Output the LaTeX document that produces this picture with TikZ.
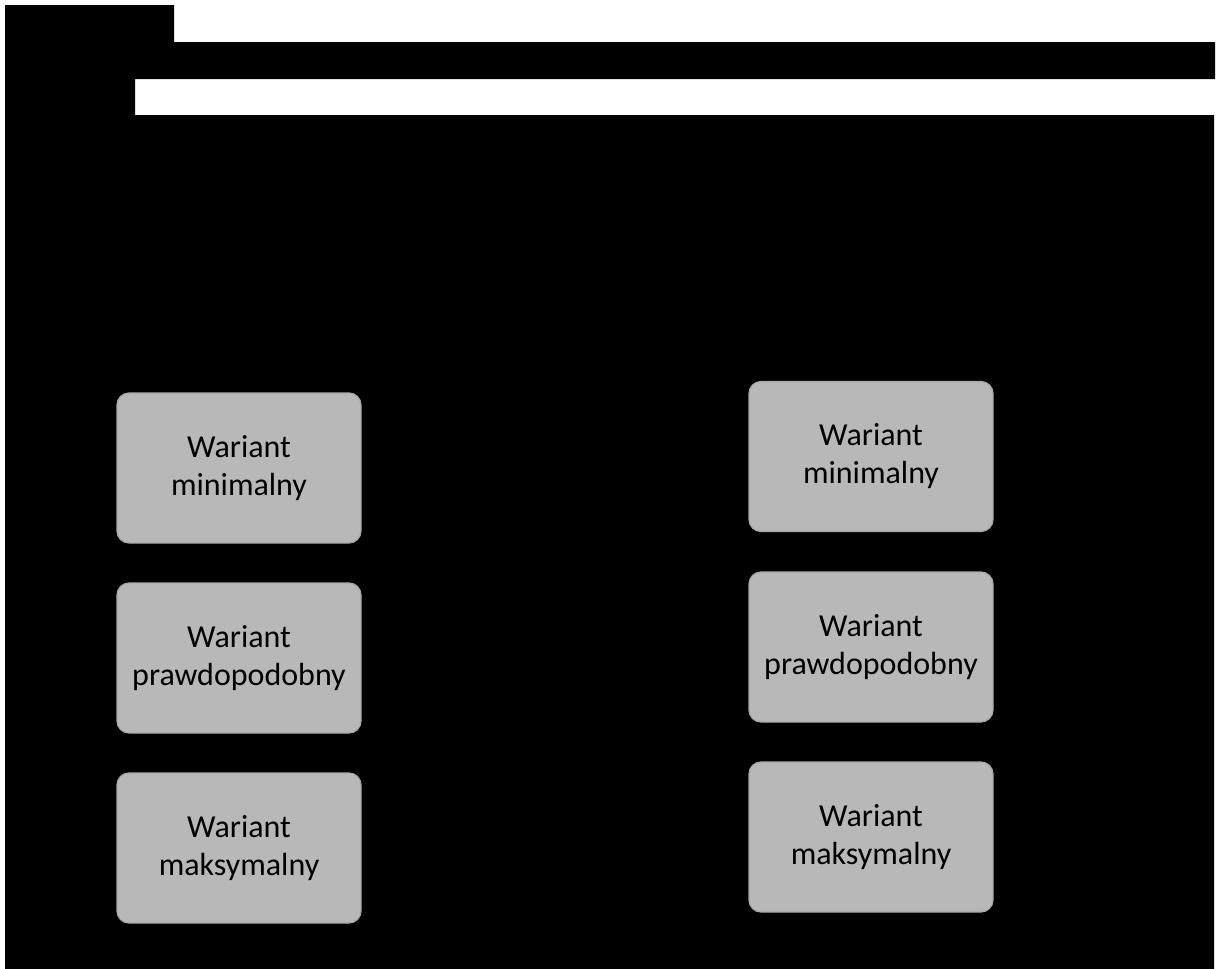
\documentclass[tikz,border=0pt]{standalone}
\usepackage{fontspec}
\setmainfont{Carlito}
\begin{document}
\begin{tikzpicture}[x=1pt,y=-1pt,
  varbox/.style={draw=boxedge,line width=1.2pt,fill=boxfill,rounded corners=12pt,
    minimum width=244pt,minimum height=150pt,inner sep=0pt,align=center,
    font=\fontsize{32}{38}\selectfont,text=black}]
\definecolor{boxfill}{HTML}{B8B8B8}
\definecolor{boxedge}{HTML}{A8A8A8}
\useasboundingbox (0,0) rectangle (1216,969);
\fill[white] (0,0) rectangle (1216,969);
\fill[black] (5,5) -- (174,5) -- (174,42) -- (1215,42) -- (1215,79) -- (135,79)
  -- (135,115) -- (1214,115) -- (1214,969) -- (5,969) -- cycle;
\node[varbox] (l1) at (239,468) {Wariant\\minimalny};
\node[varbox] (l2) at (239,658) {Wariant\\prawdopodobny};
\node[varbox] (l3) at (239,848) {Wariant\\maksymalny};
\node[varbox] (r1) at (871,456.5) {Wariant\\minimalny};
\node[varbox] (r2) at (871,647) {Wariant\\prawdopodobny};
\node[varbox] (r3) at (871,837) {Wariant\\maksymalny};
\end{tikzpicture}
\end{document}
